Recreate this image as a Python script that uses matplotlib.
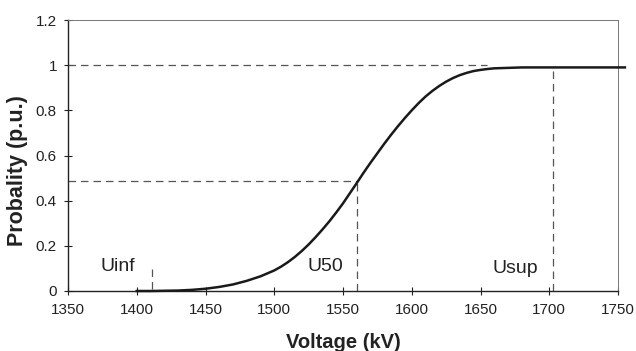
import matplotlib
matplotlib.use("Agg")
import matplotlib.pyplot as plt

plt.rcParams['font.family'] = ['Liberation Sans', 'DejaVu Sans']

voltage = [1400, 1410, 1420, 1430, 1440, 1450, 1460, 1470, 1480, 1490,
           1500, 1505, 1510, 1515, 1520, 1525, 1530, 1535, 1540, 1545,
           1550, 1555, 1560, 1565, 1570, 1575, 1580, 1585, 1590, 1595,
           1600, 1605, 1610, 1615, 1620, 1625, 1630, 1635, 1640, 1645,
           1650, 1655, 1660, 1670, 1680, 1700, 1720, 1740, 1755]
probability = [0.0, 0.0, 0.001, 0.002, 0.005, 0.01, 0.018, 0.029, 0.045, 0.065,
               0.091, 0.108, 0.128, 0.151, 0.177, 0.206, 0.238, 0.272, 0.308, 0.347,
               0.388, 0.433, 0.478, 0.524, 0.568, 0.61, 0.652, 0.692, 0.73, 0.766,
               0.80, 0.832, 0.861, 0.886, 0.908, 0.927, 0.943, 0.956, 0.966, 0.974,
               0.979, 0.983, 0.986, 0.988, 0.99, 0.99, 0.99, 0.99, 0.99]

u_inf, u50, u_sup = 1411, 1560, 1703
p50 = 0.485
p_top = 1.0
x_ticks = [1350, 1400, 1450, 1500, 1550, 1600, 1650, 1700, 1750]
y_ticks = [0, 0.2, 0.4, 0.6, 0.8, 1.0, 1.2]
y_ticklabels = ['0', '0.2', '0.4', '0.6', '0.8', '1', '1.2']

fig = plt.figure(figsize=(6.36, 3.51), dpi=100)
ax = fig.add_axes([68/636, 1-291/351, 550/636, 271/351])

dash_kw = dict(color='#555555', lw=0.9, linestyle=(0, (6, 4)))
ax.plot([1350, 1655], [p_top, p_top], **dash_kw)
ax.plot([1350, u50], [p50, p50], **dash_kw)
ax.plot([u50, u50], [0, p50], **dash_kw)
ax.plot([u_sup, u_sup], [0, 0.975], **dash_kw)
ax.plot([u_inf, u_inf], [0.01, 0.1], **dash_kw)

ax.plot(voltage, probability, color='#1a1a1a', lw=1.8, clip_on=False, zorder=3)

ax.text(1386, 0.11, 'Uinf', fontsize=14, ha='center', va='center', color='#222222')
ax.text(1537, 0.11, 'U50', fontsize=14, ha='center', va='center', color='#222222')
ax.text(1675, 0.10, 'Usup', fontsize=14, ha='center', va='center', color='#222222')

ax.set_xlim(1350, 1750)
ax.set_ylim(0, 1.2)
ax.set_xticks(x_ticks)
ax.set_yticks(y_ticks)
ax.set_yticklabels(y_ticklabels)
ax.tick_params(direction='inout', length=6, width=0.8, labelsize=11, colors='#222222')
ax.tick_params(axis='x', pad=6)
ax.tick_params(axis='y', pad=5)

for s in ['left', 'bottom']:
    ax.spines[s].set_color('#222222')
    ax.spines[s].set_linewidth(1.0)
for s in ['top', 'right']:
    ax.spines[s].set_color('#777777')
    ax.spines[s].set_linewidth(0.7)

ax.set_xlabel('Voltage (kV)', fontsize=14.5, fontweight='bold', color='#222222', va='top')
ax.xaxis.set_label_coords(0.5, -0.155)
ax.set_ylabel('Probality (p.u.)', fontsize=15.5, fontweight='bold', color='#222222', va='bottom')
ax.yaxis.set_label_coords(-0.073, 0.446)

fig.savefig('out.png', dpi=100)
